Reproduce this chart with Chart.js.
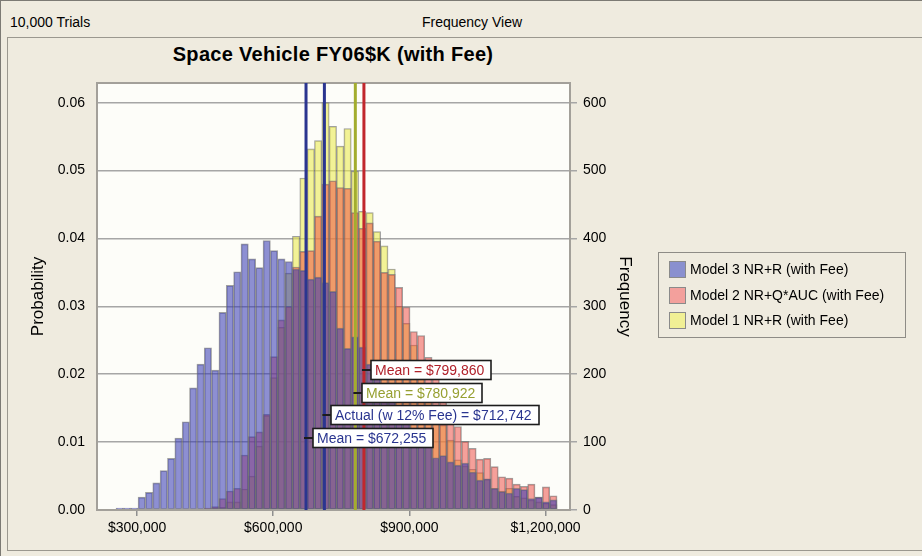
<!DOCTYPE html>
<html>
<head>
<meta charset="utf-8">
<script src="https://cdn.jsdelivr.net/npm/chart.js@4.4.1/dist/chart.umd.min.js"></script>
<style>
  body { margin: 0; background: #efebdf; font-family: Arial, "Liberation Sans", sans-serif; color: #000; }
  #wrap { position: relative; width: 922px; height: 556px; overflow: hidden; }
  #outer { position: absolute; left: 0; top: 0; width: 921px; height: 555px; border-top: 1px solid #7c7a74; border-left: 1px solid #7c7a74; }
  #trials { position: absolute; left: 10px; top: 14px; font-size: 14px; }
  #view { position: absolute; left: 372px; width: 200px; top: 14px; font-size: 14px; text-align: center; }
  #frame { position: absolute; left: 7px; top: 37px; width: 914px; height: 512px; border: 1px solid #9b988f; border-right: none; }
  #title { position: absolute; left: 83px; width: 500px; top: 43px; font-size: 20px; font-weight: bold; text-align: center; letter-spacing: 0.3px; }
  #chart { position: absolute; left: 0; top: 0; }
  #legend { position: absolute; left: 658px; top: 252px; width: 246px; height: 84px; border: 1px solid #8e8c86; }
  .item { position: absolute; left: 10px; font-size: 14px; line-height: 17px; white-space: nowrap; }
  .sw { display: inline-block; width: 15px; height: 15px; border: 1px solid #8a8a8a; vertical-align: top; margin-right: 4px; }
</style>
</head>
<body>
<div id="wrap">
  <div id="outer"></div>
  <div id="trials">10,000 Trials</div>
  <div id="view">Frequency View</div>
  <div id="frame"></div>
  <div id="title">Space Vehicle FY06$K (with Fee)</div>
  <canvas id="chart" width="922" height="556"></canvas>
  <div id="legend"></div>
</div>
<script>
// bin midpoints ($)
const binMid = [
  261600, 277800, 294000, 310200, 326400, 342600, 358800, 375000, 391200, 407400,
  423600, 439800, 456000, 472200, 488400, 504600, 520800, 537000, 553200, 569400,
  585600, 601800, 618000, 634200, 650400, 666600, 682800, 699000, 715200, 731400,
  747600, 763800, 780000, 796200, 812400, 828600, 844800, 861000, 877200, 893400,
  909600, 925800, 942000, 958200, 974400, 990600, 1006800, 1023000, 1039200, 1055400,
  1071600, 1087800, 1104000, 1120200, 1136400, 1152600, 1168800, 1185000, 1201200, 1217400
];

const model3 = [
  0.0003, 0.0003, 0.0003, 0.0019, 0.0026, 0.0040, 0.0058, 0.0076, 0.0106, 0.0130,
  0.0180, 0.0215, 0.0239, 0.0206, 0.0291, 0.0331, 0.0351, 0.0392, 0.0370, 0.0357,
  0.0397, 0.0382, 0.0370, 0.0366, 0.0355, 0.0353, 0.0340, 0.0343, 0.0335, 0.0322,
  0.0268, 0.0238, 0.0255, 0.0240, 0.0215, 0.0205, 0.0185, 0.0170, 0.0150, 0.0135,
  0.0120, 0.0105, 0.0095, 0.0077, 0.0080, 0.0071, 0.0066, 0.0069, 0.0056, 0.0044,
  0.0046, 0.0032, 0.0027, 0.0025, 0.0032, 0.0030, 0.0017, 0.0019, 0.0012, 0.0015
];

const model2 = [
  0, 0, 0, 0, 0, 0, 0, 0, 0, 0,
  0, 0.0001, 0.0003, 0.0005, 0.0017, 0.0028, 0.0032, 0.0081, 0.0108, 0.0115,
  0.0141, 0.0226, 0.0280, 0.0300, 0.0358, 0.0381, 0.0382, 0.0433, 0.0480, 0.0485,
  0.0475, 0.0474, 0.0438, 0.0415, 0.0423, 0.0396, 0.0350, 0.0347, 0.0328, 0.0299,
  0.0263, 0.0257, 0.0225, 0.0195, 0.0170, 0.0140, 0.0123, 0.0101, 0.0091, 0.0075,
  0.0076, 0.0064, 0.0049, 0.0047, 0.0038, 0.0035, 0.0038, 0.0019, 0.0034, 0.0021
];

const model1 = [
  0, 0, 0, 0, 0, 0, 0, 0, 0, 0,
  0, 0, 0, 0.0002, 0.0004, 0.0012, 0.0012, 0.0031, 0.0050, 0.0094,
  0.0139, 0.0195, 0.0269, 0.0349, 0.0403, 0.0489, 0.0532, 0.0544, 0.0600, 0.0565,
  0.0536, 0.0562, 0.0499, 0.0440, 0.0438, 0.0410, 0.0389, 0.0355, 0.0300, 0.0275,
  0.0243, 0.0215, 0.0180, 0.0150, 0.0125, 0.0103, 0.0074, 0.0065, 0.0060, 0.0055,
  0.0045, 0.0032, 0.0028, 0.0032, 0.0020, 0.0018, 0.0015, 0.0012, 0.0010, 0.0008
];

const seriesNames = ['Model 3 NR+R (with Fee)', 'Model 2 NR+Q*AUC (with Fee)', 'Model 1 NR+R (with Fee)'];
const trials = 10000;

const xTicks = [300000, 600000, 900000, 1200000];
const yTicks = [0, 0.01, 0.02, 0.03, 0.04, 0.05, 0.06];
const freqTicks = [0, 100, 200, 300, 400, 500, 600];

const meanValues = [672255, 712742, 780922, 799860];
const meanNames = ['Mean', 'Actual (w 12% Fee)', 'Mean', 'Mean'];

// styles
const barColors = ['rgba(50,52,178,0.55)', 'rgba(237,67,60,0.5)', 'rgba(235,235,83,0.6)'];
const swatchColors = ['#8a90cf', '#f3a09c', '#f1f095'];
const lineColors = ['#2b3590', '#2b3590', '#a3ad2e', '#c1272d'];
const textColors = ['#2a3590', '#2a3590', '#97a032', '#b0202a'];
const labelLevels = [0.01055, 0.01394, 0.01718, 0.02055];

const legend = document.getElementById('legend');
seriesNames.forEach((name, i) => {
  const row = document.createElement('div');
  row.className = 'item';
  row.style.top = (8 + i * 25.5) + 'px';
  row.innerHTML = '<span class="sw" style="background:' + swatchColors[i] + '"></span>' + name;
  legend.appendChild(row);
});

const overlay = {
  id: 'overlay',
  beforeDraw(chart) {
    const { ctx, chartArea: a } = chart;
    ctx.save();
    ctx.fillStyle = '#fdfdf9';
    ctx.fillRect(a.left, a.top, a.width, a.height);
    ctx.restore();
  },
  afterDatasetsDraw(chart) {
    const { ctx, chartArea: a, scales } = chart;
    ctx.save();
    ctx.strokeStyle = '#a3a09a';
    ctx.lineWidth = 2;
    ctx.strokeRect(a.left, a.top, a.width, a.height);

    meanValues.forEach((v, i) => {
      const x = scales.x.getPixelForValue(v);
      ctx.strokeStyle = lineColors[i];
      ctx.lineWidth = 3;
      ctx.beginPath();
      ctx.moveTo(x, a.top);
      ctx.lineTo(x, a.bottom);
      ctx.stroke();
    });

    ctx.font = '14px Arial, "Liberation Sans", sans-serif';
    ctx.textBaseline = 'middle';
    meanValues.forEach((v, i) => {
      const x = scales.x.getPixelForValue(v);
      const yc = Math.round(scales.y.getPixelForValue(labelLevels[i]));
      const text = meanNames[i] + ' = $' + v.toLocaleString('en-US');
      const w = Math.round(ctx.measureText(text).width) + 11;
      const h = 19;
      const bx = Math.round(x + 7);
      ctx.fillStyle = '#ffffff';
      ctx.fillRect(bx, yc - h / 2, w, h);
      ctx.strokeStyle = '#1c1c1c';
      ctx.lineWidth = 1.6;
      ctx.strokeRect(bx, yc - h / 2, w, h);
      ctx.lineWidth = 2;
      ctx.beginPath();
      ctx.moveTo(x - 2, yc);
      ctx.lineTo(bx, yc);
      ctx.stroke();
      ctx.fillStyle = textColors[i];
      ctx.fillText(text, bx + 4, yc + 1);
    });
    ctx.restore();
  }
};

const series = [model3, model2, model1];
const font = { family: 'Arial, "Liberation Sans", sans-serif', size: 14 };

new Chart(document.getElementById('chart'), {
  type: 'bar',
  data: {
    datasets: series.map((vals, i) => ({
      label: seriesNames[i],
      data: vals.map((y, j) => ({ x: binMid[j], y: y })),
      backgroundColor: barColors[i],
      borderColor: 'rgba(110,110,110,0.65)',
      borderWidth: 1,
      borderSkipped: false,
      grouped: false,
      barPercentage: 1,
      categoryPercentage: 1
    }))
  },
  options: {
    responsive: false,
    animation: false,
    layout: { padding: { left: 24, top: 83, right: 283, bottom: 0 } },
    plugins: { legend: { display: false }, tooltip: { enabled: false } },
    scales: {
      x: {
        type: 'linear',
        position: 'bottom',
        offset: false,
        min: 211600,
        max: 1254000,
        afterBuildTicks: s => { s.ticks = xTicks.map(v => ({ value: v })); },
        afterFit: s => { s.height = 46; },
        border: { display: false },
        grid: { offset: false, drawOnChartArea: false, drawTicks: true, tickLength: 6, color: '#8f8f8f', lineWidth: 1.5 },
        ticks: { font, color: '#000', padding: 4, maxRotation: 0, callback: v => '$' + Number(v).toLocaleString('en-US') }
      },
      y: {
        position: 'left',
        min: 0,
        max: 0.0629,
        afterBuildTicks: s => { s.ticks = yTicks.map(v => ({ value: v })); },
        afterFit: s => { s.width = 73; },
        border: { display: false },
        grid: { drawTicks: false, color: '#a6a6a6', lineWidth: 1.5 },
        ticks: { font, color: '#000', padding: 12, callback: v => Number(v).toFixed(2) },
        title: { display: true, text: 'Probability', font: { family: font.family, size: 17 }, color: '#000', padding: { top: 4, bottom: 4 } }
      },
      y2: {
        position: 'right',
        min: 0,
        max: 0.0629 * trials,
        afterBuildTicks: s => { s.ticks = freqTicks.map(v => ({ value: v })); },
        afterFit: s => { s.width = 69; },
        border: { display: false },
        grid: { drawOnChartArea: false, drawTicks: true, tickLength: 7, color: '#a6a6a6', lineWidth: 1.5 },
        ticks: { font, color: '#000', padding: 6, callback: v => String(v) },
        title: { display: true, text: 'Frequency', font: { family: font.family, size: 17 }, color: '#000', padding: { top: 4, bottom: 4 } }
      }
    }
  },
  plugins: [overlay]
});
</script>
</body>
</html>
